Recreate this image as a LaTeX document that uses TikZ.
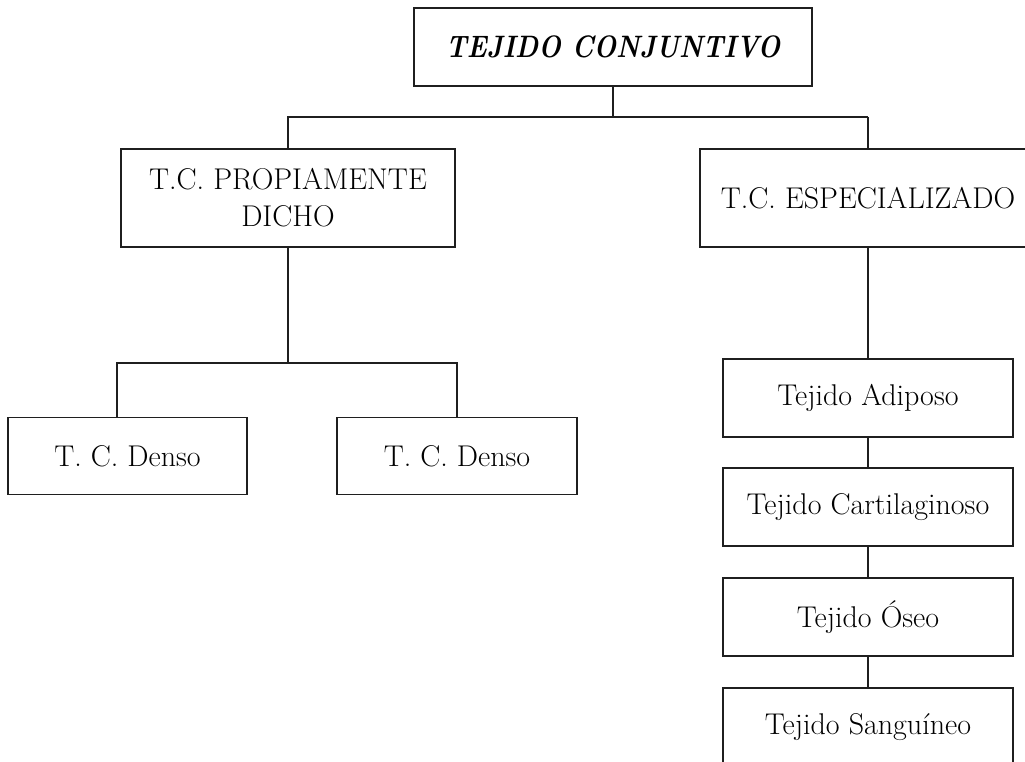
\documentclass[tikz,border=0pt]{standalone}
\usepackage{fontspec}
\begin{document}
\begin{tikzpicture}[x=1pt,y=-1pt,
  box/.style={draw=black!88, line width=1.4pt, fill=white, align=center, inner sep=0pt,
    font=\fontsize{30}{37}\selectfont},
  colbox/.style={box, line width=2pt, minimum width=290, minimum height=78},
  conn/.style={draw=black!88, line width=1.4pt},
  thickconn/.style={draw=black!88, line width=2.6pt}]
\path[use as bounding box, fill=white] (0,0) rectangle (1025,762);
\clip (0,0) rectangle (1025,762);

\node[box, line width=1.6pt, minimum width=398, minimum height=78,
  font=\fontsize{31}{36}\selectfont\bfseries\itshape] (top) at (613,47) {\scalebox{0.85}[1]{TEJIDO CONJUNTIVO}};
\node[box, minimum width=334, minimum height=98] (prop) at (288,198) {T.C. PROPIAMENTE\\DICHO};
\node[box, line width=1.8pt, minimum width=336, minimum height=98] (esp) at (868,198) {T.C. ESPECIALIZADO};

\node[box, minimum width=239, minimum height=77] (d1) at (127.5,456) {T. C. Denso};
\node[box, minimum width=240, minimum height=77] (d2) at (457,456) {T. C. Denso};

\node[colbox] (a1) at (868,398) {Tejido Adiposo};
\node[colbox] (a2) at (868,507) {Tejido Cartilaginoso};
\node[colbox] (a3) at (868,617) {Tejido Óseo};
\node[colbox] (a4) at (868,727) {Tejido Sanguíneo};

\coordinate (jt) at (613,117);
\coordinate (jp) at (288,363);
\coordinate (d1top) at (117,417);

\draw[conn] (top.south) -- (jt);
\draw[thickconn] (prop.north) -- (prop.north |- jt) -- (esp.north |- jt);
\draw[conn] (esp.north |- jt) -- (esp.north);

\draw[conn] (prop.south) -- (jp);
\draw[conn] (d1top) |- (jp) -| (d2.north);

\draw[thickconn] (esp.south) -- (a1.north);
\draw[conn] (a1.south) -- (a2.north);
\draw[conn] (a2.south) -- (a3.north);
\draw[conn] (a3.south) -- (a4.north);
\end{tikzpicture}
\end{document}
